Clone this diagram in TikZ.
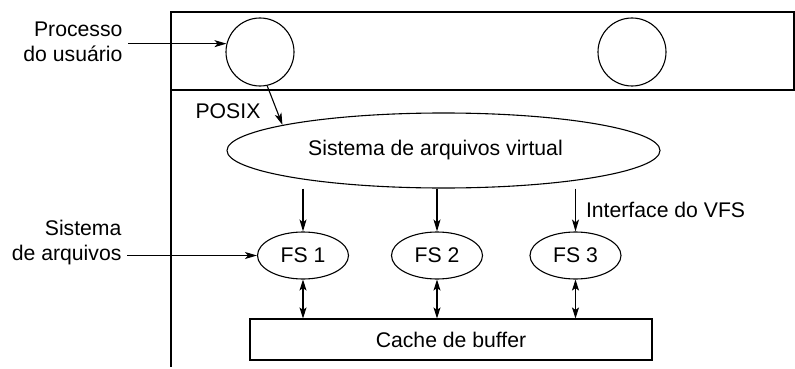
\documentclass[tikz,border=0pt]{standalone}
\usepackage{fontspec}
\setmainfont{Liberation Sans}
\usetikzlibrary{shapes.geometric,arrows.meta}
\begin{document}
\begin{tikzpicture}[x=1pt,y=-1pt,
  every node/.style={font=\fontsize{21.2}{25}\selectfont, inner sep=0pt},
  every path/.style={line width=1.1pt},
  arr/.style={-{Stealth[length=12pt,width=7pt,inset=3pt]}},
  darr/.style={{Stealth[length=11pt,width=7pt,inset=2.5pt]}-{Stealth[length=11pt,width=7pt,inset=2.5pt]}},
  proc/.style={draw, circle, minimum size=68pt},
  fsnode/.style={draw, ellipse, minimum width=91pt, minimum height=47pt},
  lbl/.style={align=right, inner xsep=5pt}
]
\useasboundingbox (0,0) rectangle (795,369);
% frame
\draw (171,12) rectangle (794,90);
\draw (171,90) -- (171,367);
% nodes
\node[proc] (c1) at (260,52) {};
\node[proc] (c2) at (632,52) {};
\node[lbl, anchor=east] (pu) at (128,42) {Processo\\do usuário};
\node (posix) at (228,111) {POSIX};
\node[draw, ellipse, minimum width=433pt, minimum height=75pt] (vfs) at (443.5,150.5) {Sistema de arquivos virtual\hspace*{16pt}};
\node[fsnode] (fs1) at (303,255.5) {FS 1};
\node[fsnode] (fs2) at (437,255.5) {FS 2};
\node[fsnode] (fs3) at (575.5,255.5) {FS 3};
\node[lbl, anchor=east] (sa) at (127,243) {Sistema\\de arquivos};
\node[draw, rectangle, minimum width=402pt, minimum height=41pt] (cache) at (451,339.5) {Cache de buffer};
% connectors
\draw[arr] (pu.east |- c1.166) -- (c1.166);
\draw[arr] (c1.-78) -- (vfs.171);
\draw[arr] (vfs.south -| fs1.north) -- (fs1.north);
\draw[arr] (vfs.south -| fs2.north) -- (fs2.north);
\draw[arr] (vfs.south -| fs3.north) -- node[right=10pt] (ivfs) {Interface do VFS} (fs3.north);
\draw[arr] (sa.east |- fs1.west) -- (fs1.west);
\draw[darr] (fs1.south) -- (cache.north -| fs1.south);
\draw[darr] (fs2.south) -- (cache.north -| fs2.south);
\draw[darr] (fs3.south) -- (cache.north -| fs3.south);
\end{tikzpicture}
\end{document}
